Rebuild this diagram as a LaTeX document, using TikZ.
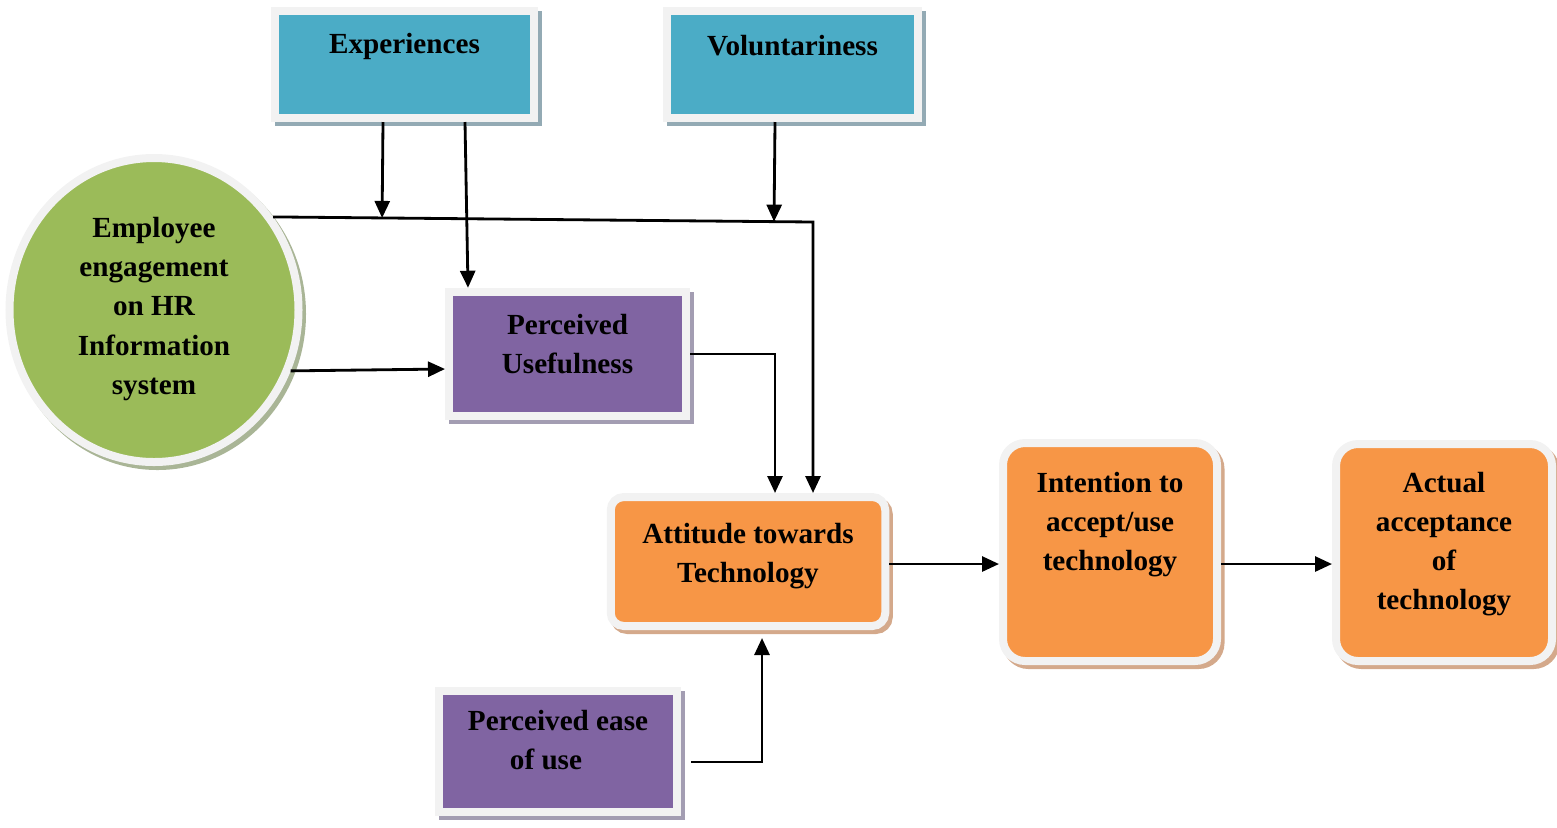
\documentclass[tikz,border=0pt]{standalone}
\usepackage{fontspec}
\setmainfont{Liberation Serif}
\usetikzlibrary{arrows.meta, calc, positioning, shadows, shapes.geometric}

\definecolor{frameGray}{HTML}{F2F2F2}
\definecolor{boxCyan}{HTML}{4BACC6}
\definecolor{boxGreen}{HTML}{9BBB59}
\definecolor{boxPurple}{HTML}{8064A2}
\definecolor{boxOrange}{HTML}{F79646}
\definecolor{shCyan}{HTML}{93AAB4}
\definecolor{shGreen}{HTML}{A9B596}
\definecolor{shPurple}{HTML}{A39DB2}
\definecolor{shOrange}{HTML}{D4A98B}

\newcommand\lblfont{\fontsize{8.3}{11.1}\selectfont\bfseries}

\tikzset{
    framed/.style args={#1 #2}{
        draw=frameGray, line width=0.08cm, fill=#1, inner sep=0pt,
        drop shadow={shadow xshift=0.035cm, shadow yshift=-0.04cm,
            fill=#2, draw=#2, line width=0.08cm, opacity=1}
    },
    factor/.style={framed={boxCyan shCyan}, rectangle},
    percept/.style={framed={boxPurple shPurple}, rectangle},
    stage/.style={framed={boxOrange shOrange}, rectangle},
    source/.style={framed={boxGreen shGreen}, ellipse},
    lbl/.style={align=center, font=\lblfont, inner sep=0pt},
    arr/.style={-{Triangle[length=0.17cm,width=0.15cm]}, line width=0.8pt},
}

\begin{document}
\begin{tikzpicture}
    \useasboundingbox (0,0) rectangle (15.57,8.27);
    % boxes
    \node[factor, minimum width=2.59cm, minimum height=1.07cm] (exp) at (4.045,7.625) {};
    \node[factor, minimum width=2.51cm, minimum height=1.07cm] (vol) at (7.925,7.625) {};
    \node[source, minimum width=2.89cm, minimum height=3.04cm] (emp) at (1.54,5.17) {};
    \node[percept, minimum width=2.37cm, minimum height=1.245cm] (pu) at (5.675,4.73) {};
    \node[percept, minimum width=2.38cm, minimum height=1.21cm] (ease) at (5.58,0.76) {};
    \node[stage, rounded corners=0.13cm, minimum width=2.745cm, minimum height=1.29cm] (att) at (7.48,2.655) {};
    \node[stage, rounded corners=0.22cm, minimum width=2.14cm, minimum height=2.18cm] (int) at (11.10,2.75) {};
    \node[stage, rounded corners=0.22cm, minimum width=2.16cm, minimum height=2.17cm] (act) at (14.44,2.745) {};
    % labels
    \node[lbl] (exp-t) at ([yshift=0.185cm]exp.center) {Experiences};
    \node[lbl] (vol-t) at ([yshift=0.185cm]vol.center) {Voluntariness};
    \node[lbl] (emp-t) at ([yshift=0.01cm]emp.center) {Employee\\engagement\\on HR\\Information\\system};
    \node[lbl] (pu-t) at ([yshift=0.10cm]pu.center) {Perceived\\Usefulness};
    \node[lbl] (ease-t) at ([yshift=0.105cm]ease.center) {Perceived ease\\of use\hspace*{0.24cm}};
    \node[lbl] (att-t) at ([yshift=0.05cm]att.center) {Attitude towards\\Technology};
    \node[lbl] (int-t) at ([yshift=0.275cm]int.center) {Intention to\\accept/use\\technology};
    \node[lbl] (act-t) at ([yshift=0.08cm]act.center) {Actual\\acceptance\\of\\technology};
    % connectors
    \coordinate (bend) at (8.13,6.05);
    \coordinate (exp-a) at ([xshift=-0.215cm]exp.south);
    \coordinate (vol-a) at ([xshift=-0.175cm]vol.south);
    \draw[arr] (emp.38) -- (bend) -- ([xshift=0.65cm]att.north);
    \draw[arr] (exp-a) -- ($(emp.38)!(exp-a)!(bend)$);
    \draw[arr] (vol-a) -- ($(emp.38)!(vol-a)!(bend)$);
    \draw[arr] ([xshift=0.605cm]exp.south) -- ([xshift=-0.995cm]pu.north);
    \draw[arr] (emp.-24) -- ([yshift=-0.15cm]pu.west);
    \draw[arr] (pu.east) -| ([xshift=0.27cm]att.north);
    \draw[arr] ([xshift=0.1cm,yshift=-0.11cm]ease.east) -| ([xshift=0.14cm,yshift=-0.08cm]att.south);
    \draw[arr] ([yshift=-0.025cm]att.east) -- ([yshift=-0.025cm]att.east -| int.west);
    \draw[arr] ([yshift=-0.12cm]int.east) -- ([yshift=-0.12cm]int.east -| act.west);
\end{tikzpicture}
\end{document}
